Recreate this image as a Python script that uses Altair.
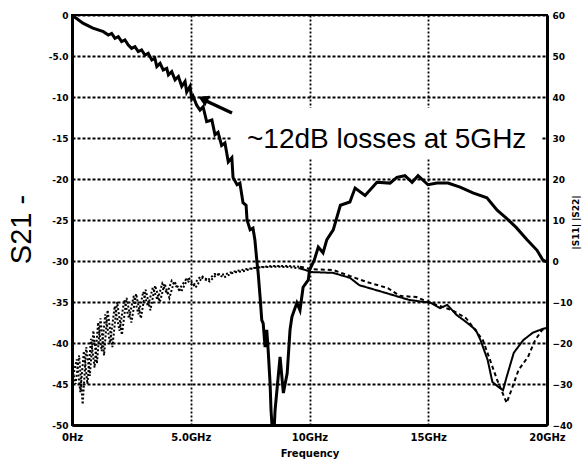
import altair as alt
import pandas as pd

# ---------------- data ----------------
s21_f = [0.0, 0.46, 0.88, 1.32, 1.53, 1.67, 1.81, 1.95, 2.09, 2.23, 2.37, 2.51, 2.65, 2.79, 2.93,
         3.07, 3.21, 3.36, 3.49, 3.57, 3.71, 3.84, 3.99, 4.06, 4.2, 4.34, 4.48, 4.62, 4.76, 4.83,
         4.97, 5.04, 5.1, 5.25, 5.39, 5.52, 5.67, 5.89, 6.02, 6.15, 6.3, 6.44, 6.58, 6.73, 6.78,
         6.95, 7.07, 7.2, 7.33, 7.37, 7.5, 7.62, 7.7, 7.79, 7.84, 7.92, 7.99, 8.05, 8.13, 8.2,
         8.26, 8.34, 8.38, 8.42, 8.52, 8.55, 8.76, 8.9, 9.06, 9.18, 9.26, 9.47, 9.6, 9.73, 9.95,
         10.0, 10.2, 10.37, 10.57, 10.73, 11.0, 11.3, 11.7, 11.92, 12.34, 12.84, 13.39, 13.68,
         14.02, 14.32, 14.57, 14.99, 15.37, 15.83, 16.34, 16.88, 17.47, 17.9, 18.3, 18.7, 19.16,
         19.58, 19.83, 20.0]
s21_v = [0.0, -1.0, -1.6, -2.03, -2.44, -2.24, -2.85, -2.64, -3.25, -3.05, -3.66, -4.07, -3.86,
         -4.47, -4.27, -4.88, -4.67, -5.49, -5.28, -6.3, -5.9, -6.7, -6.5, -7.3, -6.9, -7.9, -7.5,
         -8.7, -8.1, -9.4, -8.7, -10.2, -9.9, -11.0, -11.6, -11.2, -13.0, -12.8, -14.6, -14.3,
         -15.9, -15.6, -17.9, -17.4, -19.8, -20.7, -20.5, -22.9, -23.2, -25.0, -26.2, -26.0,
         -27.4, -30.2, -31.5, -34.4, -37.2, -37.6, -40.5, -38.4, -40.9, -44.9, -48.2, -50.0,
         -50.0, -48.2, -41.7, -46.1, -43.7, -38.4, -36.8, -35.1, -36.0, -33.2, -32.3, -31.1,
         -29.9, -28.3, -29.0, -27.4, -26.2, -23.2, -22.8, -21.1, -22.0, -20.4, -20.5, -19.8,
         -19.6, -20.4, -19.6, -20.7, -20.5, -20.5, -21.0, -21.7, -22.3, -23.8, -24.8, -25.9,
         -27.4, -28.7, -29.9, -30.1]

s11_f = [0.0, 0.15, 0.3, 0.45, 0.6, 0.75, 0.9, 1.05, 1.2, 1.35, 1.5, 1.7, 1.9, 2.1, 2.3, 2.5,
         2.7, 2.9, 3.1, 3.3, 3.5, 3.7, 3.9, 4.1, 4.3, 4.6, 4.9, 5.2, 5.5, 5.8, 6.1, 6.4, 6.8,
         7.2, 7.6, 8.0, 8.6, 9.2, 9.6, 10.1, 11.0, 11.7, 12.1, 13.1, 14.2, 15.1, 15.5, 15.8,
         16.2, 16.6, 17.0, 17.2, 17.5, 17.7, 17.95, 18.15, 18.3, 18.6, 19.0, 19.4, 19.8, 20.0]
s11_v = [-26, -30, -23, -35, -21, -28, -17, -25, -14, -23, -12, -21, -10, -18, -9, -15, -8, -14,
         -7, -12, -6, -10, -5.5, -9, -5, -7.5, -4, -6.5, -3.8, -5, -3.2, -4, -2.8, -2.5, -1.8,
         -1.5, -1.4, -1.5, -1.8, -2.7, -2.9, -4.1, -5.9, -7.6, -9.5, -10.2, -11.5, -10.7, -13.2,
         -14.9, -16.8, -19.3, -24.1, -29.5, -30.7, -31.5, -28.3, -22.4, -19.3, -17.5, -16.6, -16.3]

s22_f = [0.05, 0.2, 0.35, 0.5, 0.65, 0.8, 0.95, 1.1, 1.25, 1.4, 1.6, 1.8, 2.0, 2.2, 2.4, 2.6,
         2.8, 3.0, 3.2, 3.4, 3.6, 3.8, 4.0, 4.2, 4.5, 4.8, 5.1, 5.4, 5.7, 6.0, 6.4, 6.8, 7.3,
         7.8, 8.4, 9.0, 9.6, 10.1, 11.0, 12.4, 13.3, 13.8, 14.5, 15.1, 16.0, 16.6, 17.3, 17.6,
         17.9, 18.3, 18.5, 18.8, 19.2, 19.5, 19.8, 20.0]
s22_v = [-28, -24, -32, -22, -30, -19, -26, -15, -22, -13, -20, -11, -17, -9.5, -14, -8.5, -13,
         -7.5, -11, -6.5, -9.5, -5.5, -8, -4.8, -7, -4.5, -6, -3.8, -4.8, -3.2, -3.3, -2.6, -2.0,
         -1.6, -1.2, -1.2, -1.4, -2.0, -2.2, -5.1, -6.6, -8.5, -8.8, -10.2, -12.0, -14.0, -19.3,
         -24.1, -29.0, -34.6, -31.5, -26.6, -23.4, -19.3, -16.8, -16.3]
split_f = 9.6

x_ticks = [0, 5, 10, 15, 20]
x_labels = ["0Hz", "5.0GHz", "10GHz", "15GHz", "20GHz"]
left_ticks = [0, -5, -10, -15, -20, -25, -30, -35, -40, -45, -50]
left_labels = ["0", "-5.0", "-10", "-15", "-20", "-25", "-30", "-35", "-40", "-45", "-50"]
right_ticks = [60, 50, 40, 30, 20, 10, 0, -10, -20, -30, -40]
annotation = "~12dB losses at 5GHz"

# ---------------- helpers ----------------
def label_expr(vals, labels):
    return "".join(f"datum.value == {v} ? '{l}' : " for v, l in zip(vals, labels)) + "''"

FONT = "DejaVu Sans"

df21 = pd.DataFrame({"f": s21_f, "v": s21_v})

rows = []
for name, fs, vs in (("A", s11_f, s11_v), ("B", s22_f, s22_v)):
    for f, v in zip(fs, vs):
        if f <= split_f:
            rows.append({"f": f, "v": v, "seg": name + "_low"})
        if f >= split_f:
            rows.append({"f": f, "v": v, "seg": name + "_high"})
dfs = pd.DataFrame(rows)

x_scale = alt.Scale(domain=[0, 20], nice=False, zero=False)
x_axis = alt.Axis(values=x_ticks, labelExpr=label_expr(x_ticks, x_labels), title="Frequency",
                  labelFont=FONT, labelFontWeight="bold", labelFontSize=10, labelColor="black",
                  labelPadding=7, ticks=False, domainColor="black", domainWidth=3,
                  grid=True, gridColor="black", gridDash=[2, 2], gridWidth=1.8, gridOpacity=1,
                  titleFont=FONT, titleFontWeight="bold", titleFontSize=10, titleColor="black",
                  titlePadding=6, labelFlush=False, labelOverlap=False)
X = alt.X("f:Q", scale=x_scale, axis=x_axis)

left_axis = alt.Axis(orient="left", values=left_ticks, labelExpr=label_expr(left_ticks, left_labels),
                     labelFont=FONT, labelFontWeight="bold", labelFontSize=9, labelColor="black",
                     labelPadding=4, ticks=False, domainColor="black", domainWidth=3,
                     grid=True, gridColor="black", gridDash=[3, 2], gridWidth=1.8, gridOpacity=1,
                     title="S21 -", titleFont="Liberation Sans", titleFontSize=29,
                     titleFontWeight="normal", titleColor="black", titleAngle=270,
                     titleX=-51, titleY=214, titleAlign="center", titleBaseline="middle",
                     labelOverlap=False, labelFlush=False)
right_axis = alt.Axis(orient="right", values=right_ticks, labelFont=FONT, labelFontWeight="bold",
                      labelFontSize=9, labelColor="black", labelPadding=5, ticks=False,
                      domainColor="black", domainWidth=3, grid=False,
                      title="|S11| |S22|", titleFont=FONT, titleFontSize=9, titleFontWeight="bold",
                      titleColor="black", titleAngle=270, titleX=28, titleY=207,
                      titleAlign="center", titleBaseline="middle",
                      labelOverlap=False, labelFlush=False)

one = pd.DataFrame({"a": [0]})

box = alt.Chart(one).mark_rect(fill="white").encode(
    x=alt.value(160), x2=alt.value(469), y=alt.value(93), y2=alt.value(143))
txt = alt.Chart(one).mark_text(text=annotation, font="Liberation Sans", fontSize=28,
                               align="left", baseline="alphabetic", color="black").encode(
    x=alt.value(175), y=alt.value(133))
arrow = alt.Chart(one).mark_rule(color="black", strokeWidth=3.5).encode(
    x=alt.value(160), y=alt.value(98), x2=alt.value(130), y2=alt.value(84))
head = alt.Chart(one).mark_point(shape="triangle-left", filled=True, size=140, angle=25,
                                 color="black", opacity=1).encode(
    x=alt.value(131), y=alt.value(84))

s21 = alt.Chart(df21).mark_line(color="black", strokeWidth=3, clip=True).encode(
    x=X, y=alt.Y("v:Q", scale=alt.Scale(domain=[-50, 0], nice=False), axis=left_axis))

left = alt.layer(box, s21, txt, arrow, head)

lower = alt.Chart(dfs).mark_line(color="black", strokeWidth=2, clip=True).encode(
    x=X,
    y=alt.Y("v:Q", scale=alt.Scale(domain=[-40, 60], nice=False), axis=right_axis),
    strokeDash=alt.StrokeDash("seg:N", legend=None,
                              scale=alt.Scale(domain=["A_low", "A_high", "B_low", "B_high"],
                                              range=[[2, 2], [1, 0], [2, 2], [4, 3]])),
    order="f:Q")

chart = alt.layer(left, lower).resolve_scale(y="independent").properties(
    width=475, height=410,
    autosize=alt.AutoSizeParams(type="none"),
    padding={"left": 72, "top": 15, "right": 38, "bottom": 43},
).configure_view(stroke="black", strokeWidth=2)

chart.save("out.html", embed_options={"renderer": "svg", "actions": False})
